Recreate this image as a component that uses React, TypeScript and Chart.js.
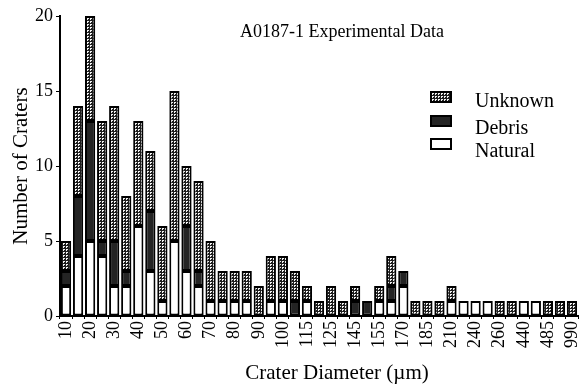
import React, { useEffect, useRef } from 'react';
import { Chart, registerables } from 'chart.js';

Chart.register(...registerables);

const chartTitle = 'A0187-1 Experimental Data';
const xTitle = 'Crater Diameter (\u00b5m)';
const yTitle = 'Number of Craters';

const categories = ['10','15','20','25','30','35','40','45','50','55','60','65','70','75','80','85','90','95','100','110','115','120','125','135','145','150','155','165','170','180','185','195','210','225','240','250','260','300','440','460','485','500','990'];

const natural = [2,4,5,4,2,2,6,3,1,5, 3,2,1,1,1,1,0,1,1,0, 1,0,0,0,0,0,1,1,2,0, 0,0,1,1,1,1,0,0,1,1, 0,0,0];
const debris  = [1,4,8,1,3,1,0,4,0,0, 3,1,0,0,0,0,0,0,0,1, 0,0,0,0,1,1,0,1,1,0, 0,0,0,0,0,0,0,0,0,0, 0,0,0];
const unknown = [2,6,7,8,9,5,7,4,5,10, 4,6,4,2,2,2,2,3,3,2, 1,1,2,1,1,0,1,2,0,1, 1,1,1,0,0,0,1,1,0,0, 1,1,1];

const yTicks = [0, 5, 10, 15, 20];
const legendOrder = ['Unknown', 'Debris', 'Natural'];

const serif = "'Liberation Serif', 'Times New Roman', serif";

export default function App() {
  const ref = useRef<HTMLCanvasElement>(null);

  useEffect(() => {
    const canvas = ref.current!;
    const pc = document.createElement('canvas');
    pc.width = 3;
    pc.height = 3;
    const pctx = pc.getContext('2d')!;
    pctx.fillStyle = '#1e1e1e';
    pctx.fillRect(0, 0, 3, 3);
    pctx.fillStyle = '#f2f2f2';
    pctx.fillRect(0, 0, 2, 1);
    pctx.fillRect(0, 1, 1, 1);
    const pattern = canvas.getContext('2d')!.createPattern(pc, 'repeat')!;

    const fills: Record<string, any> = {
      Natural: '#ffffff',
      Debris: '#242424',
      Unknown: pattern,
    };

    const overlay = {
      id: 'overlay',
      afterDraw(chart: any) {
        const ctx = chart.ctx as CanvasRenderingContext2D;
        ctx.save();
        ctx.fillStyle = '#000';
        ctx.textAlign = 'center';
        ctx.textBaseline = 'alphabetic';
        ctx.font = `18px ${serif}`;
        ctx.fillText(chartTitle, 342, 37);
        ctx.font = `21px ${serif}`;
        ctx.fillText(xTitle, 337, 379);

        const sw = [
          { y: 92, base: 107 },
          { y: 116, base: 134 },
          { y: 139, base: 157 },
        ];
        ctx.font = `20px ${serif}`;
        ctx.textAlign = 'left';
        legendOrder.forEach((name, i) => {
          const s = sw[i];
          ctx.fillStyle = fills[name];
          ctx.fillRect(431, s.y, 20, 10);
          ctx.lineWidth = 2;
          ctx.strokeStyle = '#000';
          ctx.strokeRect(431, s.y, 20, 10);
          ctx.fillStyle = '#000';
          ctx.fillText(name, 475, s.base);
        });
        ctx.restore();
      },
    };

    const common = {
      borderColor: '#000',
      borderWidth: 2,
      borderSkipped: false,
      barPercentage: 0.85,
      categoryPercentage: 1.0,
    };

    const chart = new Chart(canvas, {
      type: 'bar',
      data: {
        labels: categories,
        datasets: [
          { label: 'Natural', data: natural, backgroundColor: fills.Natural, ...common },
          { label: 'Debris', data: debris, backgroundColor: fills.Debris, ...common },
          { label: 'Unknown', data: unknown, backgroundColor: fills.Unknown, ...common },
        ],
      } as any,
      options: {
        animation: false,
        responsive: false,
        devicePixelRatio: 1,
        layout: { padding: { top: 16, right: 4, left: 0, bottom: 0 } },
        plugins: {
          legend: { display: false },
          title: { display: false },
          tooltip: { enabled: false },
        },
        scales: {
          x: {
            stacked: true,
            grid: { drawOnChartArea: false, drawTicks: true, tickLength: 3, color: '#000' },
            border: { display: true, color: '#000', width: 2 },
            ticks: {
              autoSkip: false,
              minRotation: 90,
              maxRotation: 90,
              padding: 2,
              color: '#000',
              font: { family: serif, size: 18 },
              callback: (_v: any, i: number) => (i % 2 === 0 ? categories[i] : ''),
            },
            afterFit: (scale: any) => {
              scale.height = 70;
              scale.paddingLeft = 0;
              scale.paddingRight = 0;
            },
          },
          y: {
            stacked: true,
            min: 0,
            max: 20,
            afterBuildTicks: (scale: any) => {
              scale.ticks = yTicks.map((v) => ({ value: v }));
            },
            grid: { drawOnChartArea: false, drawTicks: true, tickLength: 4, color: '#000' },
            border: { display: true, color: '#000', width: 2 },
            ticks: {
              padding: 3,
              color: '#000',
              font: { family: serif, size: 18 },
            },
            title: {
              display: true,
              text: yTitle,
              color: '#000',
              font: { family: serif, size: 21, weight: 'normal' },
              padding: { top: 9, bottom: 0 },
            },
            afterFit: (scale: any) => {
              scale.width = 60;
              scale.paddingTop = 0;
              scale.paddingBottom = 0;
            },
          },
        },
      } as any,
      plugins: [overlay],
    });

    return () => chart.destroy();
  }, []);

  return (
    <div style={{ position: 'fixed', left: 0, top: 0, width: 582, height: 386, background: '#fff' }}>
      <canvas ref={ref} width={582} height={386} style={{ display: 'block' }} />
    </div>
  );
}
